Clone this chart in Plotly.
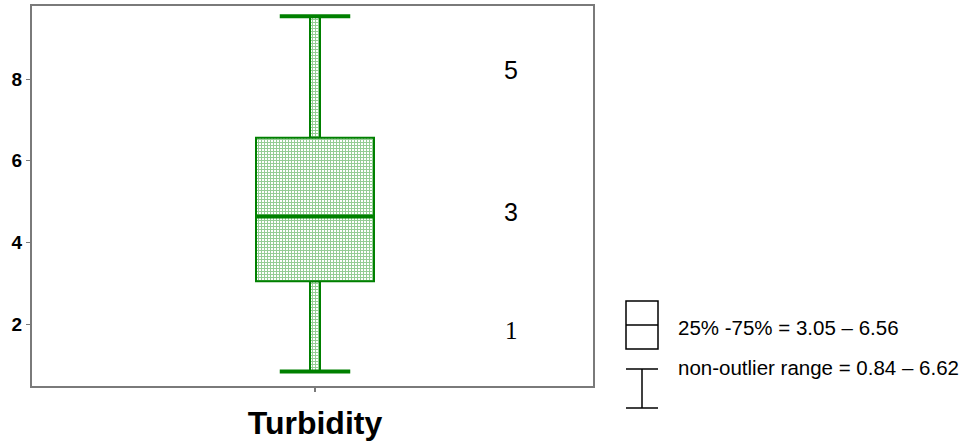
import plotly.graph_objects as go

# ---- data ----
categories = ["Turbidity"]
q1 = [3.05]
q3 = [6.56]
median = [4.63]
lower = [0.84]
upper = [9.54]
y_ticks = [2, 4, 6, 8]
side_labels = ["5", "3", "1"]
legend_texts = ["25% -75% = 3.05 \u2013 6.56", "non-outlier range = 0.84 \u2013 6.62"]

# ---- layout geometry (pixels) ----
W, H = 971, 445
L, R, T, B = 32, 593, 6, 386
PW, PH = R - L, B - T
px_per_x = PW / 2.0  # x range spans 2 category units

GREEN = "#008000"
FONT = "Arial, Liberation Sans, sans-serif"
LINE_EW_SCALE = 1.39  # plotly draws line-ew markers ~1.39x their size

def pxw(p):
    return p / px_per_x

def paper_x(p):
    return (p - L) / PW

def paper_y(p):
    return (B - p) / PH

pattern = dict(shape="+", size=3, solidity=0.55, fgcolor="#2a9a2a", bgcolor="white", fillmode="overlay")

fig = go.Figure()

# whisker stems (narrow hatched bars)
fig.add_trace(go.Bar(x=categories, base=lower, y=[a - b for a, b in zip(q1, lower)],
                     width=pxw(10), marker=dict(color="white", pattern=pattern,
                                                line=dict(color=GREEN, width=2)),
                     hoverinfo="skip", showlegend=False))
fig.add_trace(go.Bar(x=categories, base=q3, y=[a - b for a, b in zip(upper, q3)],
                     width=pxw(10), marker=dict(color="white", pattern=pattern,
                                                line=dict(color=GREEN, width=2)),
                     hoverinfo="skip", showlegend=False))
# box
fig.add_trace(go.Bar(x=categories, base=q1, y=[a - b for a, b in zip(q3, q1)],
                     width=pxw(118), marker=dict(color="white", pattern=pattern,
                                                 line=dict(color=GREEN, width=2)),
                     hoverinfo="skip", showlegend=False))
# caps
for vals in (lower, upper):
    fig.add_trace(go.Scatter(x=categories, y=vals, mode="markers",
                             marker=dict(symbol="line-ew", size=70 / LINE_EW_SCALE,
                                         line=dict(color=GREEN, width=4)),
                             hoverinfo="skip", showlegend=False))
# median
fig.add_trace(go.Scatter(x=categories, y=median, mode="markers",
                         marker=dict(symbol="line-ew", size=116 / LINE_EW_SCALE,
                                     line=dict(color=GREEN, width=4)),
                         hoverinfo="skip", showlegend=False))

center_frac = (315 - L) / PW
x0 = -center_frac * 2
fig.update_layout(
    width=W, height=H,
    margin=dict(l=L, r=W - R, t=T, b=H - B),
    paper_bgcolor="white", plot_bgcolor="white",
    barmode="overlay",
    font=dict(family=FONT, color="black"),
    xaxis=dict(type="category", range=[x0, x0 + 2], showgrid=False, zeroline=False,
               showline=True, mirror=True, linecolor="#7a7a7a", linewidth=2,
               ticks="outside", ticklen=4, tickcolor="#7a7a7a", tickwidth=2,
               tickfont=dict(size=32, family=FONT, color="black", weight="bold"),
               ticklabelstandoff=4, automargin=False),
    yaxis=dict(range=[0.482, 9.788], showgrid=False, zeroline=False,
               showline=True, mirror=True, linecolor="#7a7a7a", linewidth=2,
               tickvals=y_ticks, ticktext=[str(v) for v in y_ticks],
               ticks="outside", ticklen=4, tickcolor="#7a7a7a", tickwidth=1,
               tickfont=dict(size=19, family=FONT, color="black", weight="bold"),
               ticklabelstandoff=0, automargin=False),
)

# side labels
label_pos = [(511, 70, FONT, 25), (511, 212, FONT, 25), (511, 330, "Times New Roman, Liberation Serif, serif", 25)]
for txt, (x, y, fam, sz) in zip(side_labels, label_pos):
    fig.add_annotation(text=txt, xref="paper", yref="paper", x=paper_x(x), y=paper_y(y),
                       showarrow=False, font=dict(family=fam, size=sz, color="black"),
                       xanchor="center", yanchor="middle")

# legend icons
line_k = dict(color="black", width=1.5)
fig.add_shape(type="rect", xref="paper", yref="paper", x0=paper_x(626), x1=paper_x(658),
              y0=paper_y(349), y1=paper_y(301), line=line_k)
fig.add_shape(type="line", xref="paper", yref="paper", x0=paper_x(626), x1=paper_x(658),
              y0=paper_y(325), y1=paper_y(325), line=line_k)
fig.add_shape(type="line", xref="paper", yref="paper", x0=paper_x(626), x1=paper_x(658),
              y0=paper_y(369), y1=paper_y(369), line=line_k)
fig.add_shape(type="line", xref="paper", yref="paper", x0=paper_x(626), x1=paper_x(658),
              y0=paper_y(408), y1=paper_y(408), line=line_k)
fig.add_shape(type="line", xref="paper", yref="paper", x0=paper_x(642), x1=paper_x(642),
              y0=paper_y(369), y1=paper_y(408), line=line_k)

for txt, y in zip(legend_texts, (327, 367)):
    fig.add_annotation(text=txt, xref="paper", yref="paper", x=paper_x(676), y=paper_y(y),
                       showarrow=False, font=dict(family=FONT, size=20.5, color="black"),
                       xanchor="left", yanchor="middle")

fig.write_html("out.html")
